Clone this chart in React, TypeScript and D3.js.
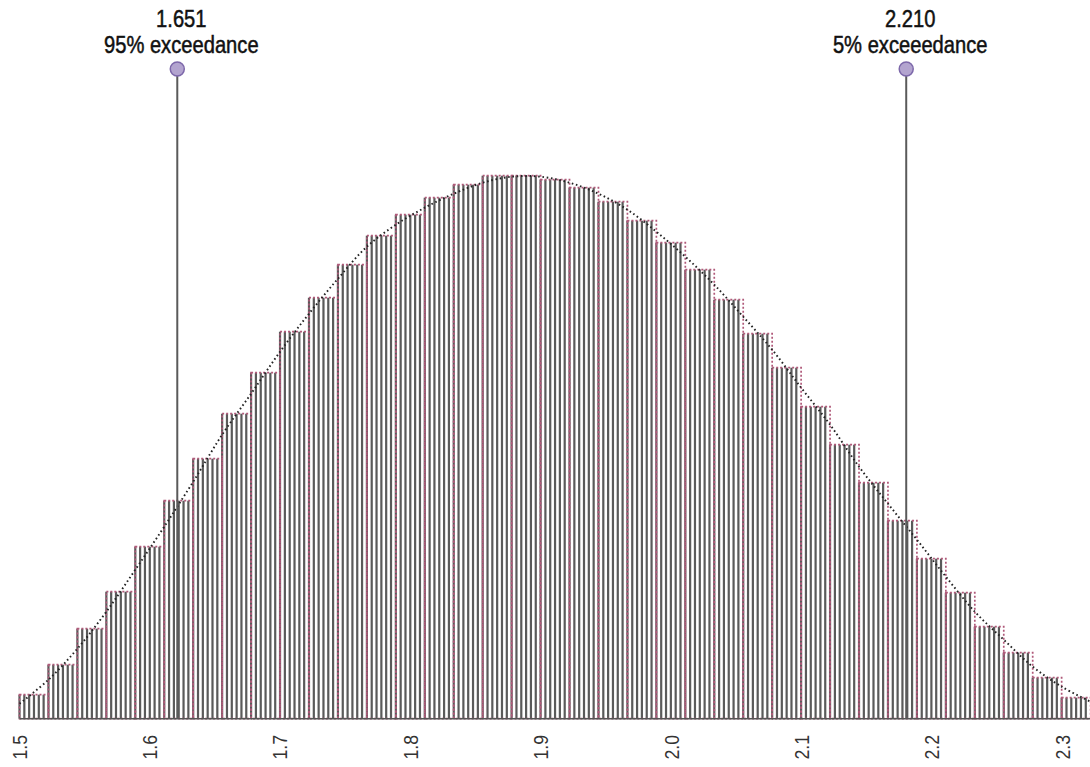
import React from "react";
import * as d3 from "d3";

// histogram bins (left edge, width) and bar heights
const binStart = 1.53;
const binWidth = 0.0222;
const binCounts = [
  24, 54, 90, 127, 172, 218, 260, 305, 346, 387, 421, 454, 483, 504, 521, 534, 543, 543, 539,
  531, 517, 498, 476, 449, 419, 385, 351, 312, 274, 236, 198, 160, 126, 92, 66, 41, 21,
];
// fitted density, read at every bin edge
const fitCurve = [
  15, 39, 70, 107, 149, 192, 237, 284, 325, 367, 405, 440, 472, 494, 511, 525, 536, 542, 542,
  536, 525, 509, 487, 462, 434, 402, 369, 331, 294, 252, 215, 179, 142, 107, 79, 52, 32, 17,
];
const tickValues = [1.5, 1.6, 1.7, 1.8, 1.9, 2.0, 2.1, 2.2, 2.3];
const tickOffset = 0.03; // labels sit 0.03 left of the data scale in the original
const markers = [
  { value: 1.651, label: "95% exceedance" },
  { value: 2.21, label: "5% exceeedance" },
];

const W = 1090;
const H = 767;
const baseY = 718.7;
const subPerBin = 6;
// no narrow face installed, so squeeze Liberation Sans horizontally
const font = "'Liberation Sans', Arial, sans-serif";
const squeeze = 0.84;

const App = () => {
  const x = d3.scaleLinear().domain([1.53, 2.33]).range([19.5, 1062.7]);
  const y = d3.scaleLinear().domain([0, 600]).range([baseY, baseY - 600]);
  const fmt = d3.format(".3f");

  const bins = binCounts.map((c, i) => ({
    x0: binStart + i * binWidth,
    x1: binStart + (i + 1) * binWidth,
    count: c,
  }));

  const line = d3
    .line<number>()
    .x((_, i) => x(binStart + i * binWidth))
    .y((d) => y(d))
    .curve(d3.curveCatmullRom);

  return (
    <svg
      width={W}
      height={H}
      style={{ position: "absolute", left: 0, top: 0, background: "#fff" }}
    >
      <g>
        {bins.map((b, i) => {
          const bx = x(b.x0);
          const bw = x(b.x1) - x(b.x0);
          const top = y(b.count);
          return (
            <g key={i}>
              {d3.range(subPerBin).map((k) => (
                <rect
                  key={k}
                  x={bx + (k * bw) / subPerBin - 1.1}
                  y={top}
                  width={2.2}
                  height={baseY - top}
                  fill="#5a5a5a"
                />
              ))}
            </g>
          );
        })}
        {bins.map((b, i) => (
          <rect
            key={"o" + i}
            x={x(b.x0)}
            y={y(b.count)}
            width={x(b.x1) - x(b.x0)}
            height={baseY - y(b.count)}
            fill="none"
            stroke="#b05a7a"
            strokeWidth={1.7}
            strokeDasharray="2,2"
          />
        ))}
        <line x1={x(binStart)} x2={W} y1={baseY} y2={baseY} stroke="#555" strokeWidth={1.5} />
        <path
          d={line(fitCurve) || ""}
          fill="none"
          stroke="#222"
          strokeWidth={1.9}
          strokeDasharray="1.6,2.7"
        />
      </g>

      {markers.map((m, i) => {
        const mx = x(m.value);
        return (
          <g key={"m" + i}>
            <line x1={mx} x2={mx} y1={69} y2={baseY} stroke="#5a5a5a" strokeWidth={2} />
            <circle cx={mx} cy={69} r={7} fill="#b3a4cf" stroke="#7d68aa" strokeWidth={1.5} />
            <text
              transform={`translate(${mx + 4},26.7) scale(${squeeze},1)`}
              textAnchor="middle"
              fontFamily={font}
              fontSize={24}
              fill="#111"
              stroke="#111"
              strokeWidth={0.5}
            >
              {fmt(m.value)}
            </text>
            <text
              transform={`translate(${mx + 4},53) scale(${squeeze},1)`}
              textAnchor="middle"
              fontFamily={font}
              fontSize={24}
              fill="#111"
              stroke="#111"
              strokeWidth={0.5}
            >
              {m.label}
            </text>
          </g>
        );
      })}

      {tickValues.map((t) => (
        <text
          key={t}
          transform={`translate(${x(t + tickOffset) - 0.5},735) rotate(-90) scale(${squeeze},1)`}
          textAnchor="end"
          dominantBaseline="central"
          fontFamily={font}
          fontSize={21}
          fill="#333"
        >
          {t.toFixed(1)}
        </text>
      ))}
    </svg>
  );
};

export default App;
